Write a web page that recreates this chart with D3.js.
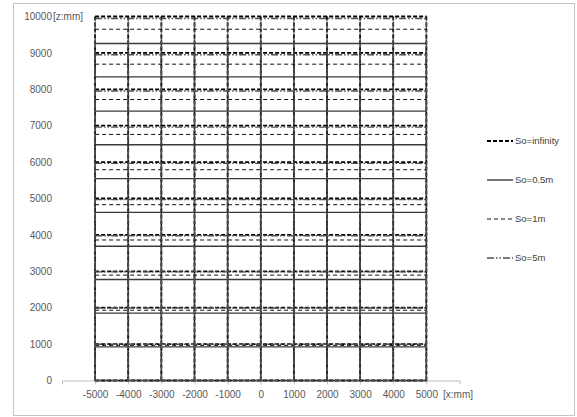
<!DOCTYPE html>
<html>
<head>
<meta charset="utf-8">
<script src="https://cdn.jsdelivr.net/npm/d3@7"></script>
<style>
  body { margin: 0; background: #fff; }
  svg { display: block; font-family: 'Liberation Sans', Arial, sans-serif; }
</style>
</head>
<body>
<div id="chart"></div>
<script>
// grid columns (x, mm) shared by every series
const xCols = [-5000, -4000, -3000, -2000, -1000, 0, 1000, 2000, 3000, 4000, 5000];

// z levels (mm) of the horizontal grid lines, read per series
const zInfinity = [0, 1000, 2000, 3000, 4000, 5000, 6000, 7000, 8000, 9000, 10000];
const zHalf = [0, 925, 1850, 2775, 3690, 4620, 5545, 6475, 7400, 8340, 9260];
const zOne = [0, 965, 1930, 2895, 3860, 4830, 5790, 6760, 7720, 8690, 9650];
const zFive = [0, 995, 1990, 2985, 3975, 4970, 5965, 6960, 7955, 8950, 9945];

const seriesNames = ['So=infinity', 'So=0.5m', 'So=1m', 'So=5m'];
const xTicks = [-6000, -5000, -4000, -3000, -2000, -1000, 0, 1000, 2000, 3000, 4000, 5000, 6000];
const yTicks = [0, 1000, 2000, 3000, 4000, 5000, 6000, 7000, 8000, 9000, 10000];

const styles = {
  'So=infinity': { stroke: '#000', width: 1.8, dash: '4 2' },
  'So=0.5m': { stroke: '#3a3a3a', width: 1.4, dash: null },
  'So=1m': { stroke: '#111', width: 1, dash: '4 3' },
  'So=5m': { stroke: '#505050', width: 1.4, dash: '7 2 1.5 2 1.5 2' },
};

const series = [
  { name: seriesNames[0], z: zInfinity },
  { name: seriesNames[1], z: zHalf },
  { name: seriesNames[2], z: zOne },
  { name: seriesNames[3], z: zFive },
];

const W = 577, H = 417;
const svg = d3.select('#chart').append('svg')
  .attr('width', W).attr('height', H);

svg.append('rect')
  .attr('x', 13.5).attr('y', 3.5)
  .attr('width', 561).attr('height', 412)
  .attr('fill', '#fff')
  .attr('stroke', '#c4c4c4');

const x = d3.scaleLinear().domain([-6000, 6000]).range([62, 459.5]);
const y = d3.scaleLinear().domain([0, 10000]).range([380.5, 16.5]);

// x axis
const xAxis = svg.append('g')
  .attr('class', 'axis x')
  .attr('transform', `translate(0,${y(0)})`)
  .call(d3.axisBottom(x).tickValues(xTicks).tickSize(4).tickSizeOuter(0).tickPadding(6)
    .tickFormat(d => d === -6000 ? '' : d === 6000 ? '[x:mm]' : d));
xAxis.select('.domain').attr('stroke', '#bfbfbf');
xAxis.selectAll('.tick line').attr('stroke', '#bfbfbf');
xAxis.selectAll('.tick text').attr('fill', '#595959').style('font-size', '10px');
xAxis.selectAll('.tick text').filter(d => d === 6000).attr('dx', -2);

// y axis (labels only)
const yAxis = svg.append('g')
  .attr('class', 'axis y')
  .attr('transform', `translate(62,0)`)
  .call(d3.axisLeft(y).tickValues(yTicks).tickSize(0).tickPadding(10).tickFormat(d => d));
yAxis.select('.domain').remove();
yAxis.selectAll('.tick text').attr('fill', '#595959').style('font-size', '10px');
svg.append('text')
  .attr('x', 53).attr('y', y(10000)).attr('dy', '0.32em')
  .attr('fill', '#595959').style('font-size', '10px')
  .text('[z:mm]');

// series meshes
const line = d3.line().x(d => x(d[0])).y(d => y(d[1]));
const plot = svg.append('g').attr('class', 'plot');

series.forEach(s => {
  const st = styles[s.name];
  const zTop = s.z[s.z.length - 1];
  const segs = [];
  s.z.forEach(z => segs.push([[xCols[0], z], [xCols[xCols.length - 1], z]]));
  xCols.forEach(c => segs.push([[c, 0], [c, zTop]]));
  plot.append('g')
    .attr('class', 'series')
    .selectAll('path')
    .data(segs)
    .join('path')
    .attr('d', line)
    .attr('fill', 'none')
    .attr('stroke', st.stroke)
    .attr('stroke-width', st.width)
    .attr('stroke-dasharray', st.dash);
});

// legend
const legendY = d3.scalePoint().domain(seriesNames).range([141, 258]);
const legend = svg.append('g').attr('class', 'legend');
seriesNames.forEach(n => {
  const st = styles[n];
  const g = legend.append('g').attr('transform', `translate(0,${legendY(n)})`);
  g.append('line')
    .attr('x1', 487).attr('x2', 513)
    .attr('stroke', st.stroke)
    .attr('stroke-width', st.width)
    .attr('stroke-dasharray', st.dash);
  g.append('text')
    .attr('x', 515).attr('dy', '0.32em')
    .attr('fill', '#404040').style('font-size', '9.5px')
    .text(n);
});
</script>
</body>
</html>
